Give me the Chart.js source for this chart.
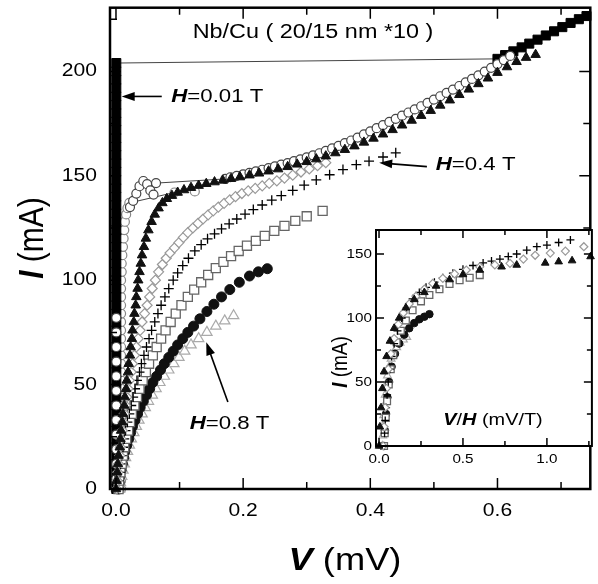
<!DOCTYPE html>
<html>
<head>
<meta charset="utf-8">
<script src="https://cdn.jsdelivr.net/npm/chart.js@4.4.1/dist/chart.umd.min.js"></script>
<style>
body{margin:0;background:#fff;}
#wrap{position:relative;width:598px;height:584px;}
#main{position:absolute;left:0;top:0;}
#inset{position:absolute;left:300px;top:222px;}
</style>
</head>
<body>
<div id="wrap">
<canvas id="main" width="598" height="584"></canvas>
<canvas id="inset" width="298" height="250"></canvas>
</div>
<script>
// I-V curves of Nb/Cu (20/15 nm x10), points are [V (mV), I (mA)]

// H = 0.01 T, filled squares (supercurrent branch then jump to the normal branch)
const sqFilled = [[0.0005,0],[0.0005,4],[0.0005,8],[0.0005,12],[0.0005,16],[0.0005,20],[0.0005,24],[0.0005,28],[0.0005,32],[0.0005,36],[0.0005,40],[0.0005,44],[0.0005,48],[0.0005,52],[0.0005,56],[0.0005,60],[0.0005,64],[0.0005,68],[0.0005,72],[0.0005,76],[0.0005,80],[0.0005,84],[0.0005,88],[0.0005,92],[0.0005,96],[0.0005,100],[0.0005,104],[0.0005,108],[0.0005,112],[0.0005,116],[0.0005,120],[0.0005,124],[0.0005,128],[0.0005,132],[0.0005,136],[0.0005,140],[0.0005,144],[0.0005,148],[0.0005,152],[0.0005,156],[0.0005,160],[0.0005,164],[0.0005,168],[0.0005,172],[0.0005,176],[0.0005,180],[0.0005,184],[0.0005,188],[0.0005,192],[0.0005,196],[0.0005,200],[0.0005,204],
	[0.6,206],[0.612,207.8],[0.625,209.6],[0.638,211.5],[0.65,213.3],[0.663,215.2],[0.676,217.2],[0.689,219.2],[0.702,221.2],[0.715,223.2],[0.728,225],[0.74,226.5]];

// open circles, grey
const circGrey = [[0.008,0],[0.008,4],[0.008,8],[0.008,12],[0.008,16],[0.008,20],[0.008,24],[0.008,28],[0.008,32],[0.008,36],[0.008,40],[0.008,44],[0.008,48],[0.008,52],[0.008,56],[0.008,60],[0.008,64],[0.008,68],[0.008,72],[0.008,76],[0.008,80],[0.008,84],[0.008,88],[0.008,92],[0.008,96],[0.008,100],
	[0.009,104],[0.009,108],[0.010,112],[0.011,116],[0.012,120],[0.013,124],[0.014,128],[0.016,131.5],[0.018,134.5],[0.021,137],[0.092,142],[0.124,142.5]];

// open circles, black
const circOpen = [[0.0005,5],[0.0005,12],[0.0005,19],[0.0005,26],[0.0005,33],[0.0005,40],[0.0005,47],[0.0005,54],[0.0005,61],[0.0005,68],[0.0005,75],[0.0005,82],
	[0.022,135],[0.027,138],[0.032,141.5],[0.037,145],[0.043,147.5],[0.049,146],[0.054,143],[0.059,141],[0.063,146.5],
	[0.172,148.5],[0.18,149.3],[0.19,150],[0.20,150.7],[0.21,151.4],[0.22,152.1],[0.23,152.9],[0.24,153.7],[0.25,154.5],[0.26,155.3],[0.27,156.1],[0.28,157],[0.29,157.9],[0.30,158.8],[0.31,159.8],[0.32,160.8],[0.33,161.9],[0.34,163.1],[0.35,164.3],[0.36,165.6],[0.37,166.9],[0.38,168.3],[0.39,169.8],[0.40,171.3],[0.41,172.8],[0.42,174.3],[0.43,175.8],[0.44,177.3],[0.45,178.8],[0.46,180.3],[0.47,181.8],[0.48,183.3],[0.49,184.9],[0.50,186.5],[0.51,188.1],[0.52,189.7],[0.53,191.3],[0.54,193],[0.55,194.7],[0.56,196.4],[0.57,198.1],[0.58,199.9],[0.59,201.7],[0.60,203.5],[0.61,205.4],[0.62,207.4]];

// filled triangles
const triFilled = [[0.000,0],[0.001,4],[0.002,8],[0.003,12],[0.004,16],[0.006,20],[0.007,24],[0.008,28],[0.010,32],[0.011,36],[0.013,40],[0.014,44],[0.016,48],[0.017,52],[0.019,56],[0.020,60],[0.022,64],[0.023,68],[0.025,72],[0.026,76],[0.028,80],[0.029,84],[0.031,88],[0.032,92],[0.034,96],[0.035,100],[0.037,104],[0.039,108],[0.041,112],[0.044,116],[0.047,120],[0.051,124],[0.056,128],[0.061,131.5],[0.067,134.5],[0.073,137],[0.080,139],[0.088,140.5],[0.097,142],[0.107,143.2],[0.118,144.3],[0.130,145.3],[0.142,146.2],[0.155,147],[0.168,147.8],[0.181,148.6],
	[0.195,149.4],[0.21,150.3],[0.225,151.2],[0.24,152.2],[0.255,153.2],[0.27,154.3],[0.285,155.5],[0.30,156.7],[0.315,158],[0.33,159.4],[0.345,160.9],[0.36,162.5],[0.375,164.2],[0.39,166],[0.405,167.9],[0.42,169.9],[0.435,172],[0.45,174.2],[0.465,176.5],[0.48,178.8],[0.495,181.2],[0.51,183.7],[0.525,186.2],[0.54,188.8],[0.555,191.4],[0.57,194],[0.585,196.7],[0.60,199.4],[0.615,202.1],[0.63,204.6],[0.645,206.6],[0.66,208]];

// open diamonds, grey
const diamOpen = [[0.001,0],[0.002,4],[0.003,8],[0.004,12],[0.006,16],[0.007,20],[0.008,24],[0.010,28],[0.011,32],[0.013,36],[0.015,40],[0.017,44],[0.019,48],[0.021,52],[0.024,56],[0.026,60],[0.029,64],[0.032,68],[0.035,72],[0.038,76],[0.041,80],[0.045,84],[0.049,88],[0.053,92],[0.057,96],[0.062,100],[0.067,104],[0.073,107.5],[0.079,110.5],[0.085,113],[0.092,115.5],[0.099,118],[0.106,120.5],[0.113,122.8],[0.121,125],[0.129,127.2],[0.137,129.3],[0.145,131.3],[0.153,133.2],[0.161,135],[0.170,136.8],[0.179,138.5],[0.188,140],[0.198,141.5],[0.208,142.8],[0.219,144],[0.230,145.2],[0.241,146.4],[0.253,147.6],[0.265,148.9],[0.278,150.3],[0.291,151.8],[0.304,153.3],[0.317,154.8],[0.33,156.3]];

// crosses, H = 0.4 T
const crossBlack = [[0.003,0],[0.004,4],[0.006,8],[0.007,12],[0.009,16],[0.011,20],[0.013,24],[0.015,28],[0.018,32],[0.021,36],[0.024,40],[0.027,44],[0.030,48],[0.033,52],[0.037,56],[0.040,60],[0.044,64],[0.048,68],[0.052,72],[0.056,76],[0.061,80],[0.066,84],[0.071,88],[0.077,92],[0.083,96],[0.090,100],[0.097,103.5],[0.105,107],[0.114,110.5],[0.124,114],[0.134,117],[0.144,119.8],[0.155,122.2],[0.166,124.6],[0.178,127],[0.19,129.3],[0.203,131.6],[0.216,133.8],[0.23,136],[0.245,138.3],[0.26,140.5],[0.278,143],[0.296,145.5],[0.315,148],[0.336,150.5],[0.357,153],[0.378,155.3],[0.398,157],[0.42,159],[0.44,161]];

// open squares, grey
const sqOpen = [[0.004,0],[0.005,4],[0.007,8],[0.009,12],[0.011,16],[0.013,20],[0.016,24],[0.019,28],[0.022,32],[0.025,36],[0.029,40],[0.033,44],[0.037,48],[0.042,52],[0.047,56],[0.052,60],[0.058,64],[0.064,68],[0.071,72],[0.078,76],[0.086,80],[0.094,84],[0.103,88],[0.113,92],[0.123,95.5],[0.134,99],[0.145,102.5],[0.157,105.8],[0.169,108.8],[0.181,111.5],[0.193,114],[0.206,116.5],[0.22,118.8],[0.234,121.2],[0.249,123.6],[0.265,126],[0.282,128.4],[0.30,130.6],[0.325,133.2]];

// filled circles
const circFilled = [[0.004,0],[0.005,3],[0.006,6],[0.008,9],[0.010,12],[0.012,15],[0.014,18],[0.017,21],[0.020,24],[0.023,27],[0.026,30],[0.030,33],[0.034,36],[0.038,39],[0.043,42],[0.048,45],[0.053,48],[0.058,51],[0.064,54],[0.070,57],[0.076,60],[0.083,63],[0.090,66],[0.097,69],[0.105,72],[0.113,75],[0.122,78],[0.132,81.5],[0.143,85],[0.154,88.5],[0.166,92],[0.179,95.5],[0.194,99],[0.21,102],[0.224,104],[0.238,105.5]];

// open triangles, grey, H = 0.8 T
const triOpen = [[0.006,0],[0.007,3],[0.009,6],[0.011,9],[0.013,12],[0.015,15],[0.018,18],[0.021,21],[0.024,24],[0.028,27],[0.032,30],[0.036,33],[0.041,36],[0.046,39],[0.051,42],[0.057,45],[0.063,48],[0.069,51],[0.076,54],[0.083,57],[0.091,60],[0.099,63],[0.108,66],[0.118,69],[0.130,72],[0.143,75],[0.157,78],[0.171,80.5],[0.185,83]];

// inset: I against V/H (mV/T)
const inTriFilled = [[0.0,0],[0.005,15],[0.012,30],[0.02,45],[0.03,58],[0.045,70],[0.065,82],[0.09,92],[0.12,100],[0.16,108],[0.21,114.5],[0.27,120],[0.34,125],[0.42,130],[0.5,134],[0.6,137.5],[0.73,140],[0.82,141.4],[0.99,143],[1.07,144],[1.15,144.8],[1.26,148]];
const inCross = [[0.03,0],[0.033,10],[0.037,20],[0.042,30],[0.048,40],[0.055,50],[0.064,60],[0.075,70],[0.09,80],[0.11,90],[0.135,100],[0.165,108],[0.2,115],[0.24,120],[0.28,124],[0.33,128],[0.38,131.5],[0.44,135],[0.5,138],[0.56,141],[0.62,143],[0.67,144.5],[0.72,146],[0.77,148],[0.82,150],[0.88,153],[0.94,155.7],[1.0,157],[1.07,159],[1.14,161]];
const inDiam = [[0.025,0],[0.03,15],[0.036,30],[0.044,45],[0.055,60],[0.07,72],[0.09,84],[0.115,95],[0.145,104],[0.18,111],[0.22,117],[0.27,122.5],[0.32,127],[0.38,131],[0.45,134.5],[0.52,137.5],[0.6,140],[0.69,141.5],[0.78,142.7],[0.86,146],[0.93,149],[1.02,150.7],[1.11,152.3],[1.22,155.7]];
const inSqOpen = [[0.03,0],[0.034,10],[0.04,22],[0.048,35],[0.058,48],[0.07,60],[0.085,71],[0.105,81],[0.13,90],[0.16,98],[0.2,106],[0.25,113],[0.3,118],[0.36,122.5],[0.42,126.5],[0.48,129.5],[0.54,131.5],[0.6,133.5]];
const inCircFilled = [[0.03,0],[0.035,12],[0.042,25],[0.05,38],[0.06,50],[0.075,62],[0.095,72],[0.12,80],[0.15,87],[0.18,92],[0.21,96],[0.24,99],[0.27,101],[0.3,103]];
const inTriOpen = [[0.02,0],[0.022,8],[0.025,16],[0.028,24],[0.032,32],[0.037,40],[0.043,48],[0.05,55],[0.06,62],[0.072,68],[0.087,73],[0.105,77],[0.125,80.5],[0.145,83],[0.165,85]];

// axis ticks and labels
const mainXTicks = [0, 0.1, 0.2, 0.3, 0.4, 0.5, 0.6, 0.7];
const mainXLabels = [0, 0.2, 0.4, 0.6];
const mainYTicks = [0, 25, 50, 75, 100, 125, 150, 175, 200, 225];
const mainYLabels = [0, 50, 100, 150, 200];
const inXTicks = [0, 0.25, 0.5, 0.75, 1.0, 1.25];
const inXLabels = [0, 0.5, 1.0];
const inYTicks = [0, 25, 50, 75, 100, 125, 150];
const inYLabels = [0, 50, 100, 150];

// field labels with arrows: [text, arrow tail, arrow tip, text anchor] in data units
const fieldNotes = [
	['=0.01 T', [0.072, 188], [0.009, 188], [0.087, 188]],
	['=0.4 T', [0.489, 154.4], [0.414, 156.2], [0.503, 155.5]],
	['=0.8 T', [0.176, 41.7], [0.142, 70.3], [0.116, 31.4]]
];

const FAM = "'Liberation Sans', Arial, sans-serif";
const SX = 1.17;   // lettering is drawn a little wide

function drawRuns(ctx, runs, x, y, align, rot){
	ctx.save();
	ctx.translate(x, y);
	ctx.scale(SX, 1);
	if(rot) ctx.rotate(rot);
	ctx.textBaseline = 'middle';
	ctx.textAlign = 'left';
	ctx.fillStyle = '#000';
	let w = 0;
	runs.forEach(r => { ctx.font = r[1]; w += ctx.measureText(r[0]).width; });
	let pos = align == 'center' ? -w / 2 : (align == 'right' ? -w : 0);
	runs.forEach(r => { ctx.font = r[1]; ctx.fillText(r[0], pos, 0); pos += ctx.measureText(r[0]).width; });
	ctx.restore();
}

function arrow(ctx, x0, y0, x1, y1){
	let a = Math.atan2(y1 - y0, x1 - x0);
	let c = Math.cos(a), s = Math.sin(a);
	ctx.save();
	ctx.strokeStyle = '#000';
	ctx.fillStyle = '#000';
	ctx.lineWidth = 1.6;
	ctx.beginPath();
	ctx.moveTo(x0, y0);
	ctx.lineTo(x1 - 10 * c, y1 - 10 * s);
	ctx.stroke();
	ctx.beginPath();
	ctx.moveTo(x1, y1);
	ctx.lineTo(x1 - 13 * c + 4.5 * s, y1 - 13 * s - 4.5 * c);
	ctx.lineTo(x1 - 13 * c - 4.5 * s, y1 - 13 * s + 4.5 * c);
	ctx.closePath();
	ctx.fill();
	ctx.restore();
}

// frame with inward ticks on all four sides
function drawFrame(chart, xt, xm, yt, ym, major, minor, frameW){
	const ctx = chart.ctx, a = chart.chartArea;
	const sx = chart.scales.x, sy = chart.scales.y;
	ctx.save();
	ctx.strokeStyle = '#000';
	ctx.lineWidth = 1.5;
	ctx.beginPath();
	xt.forEach(v => {
		let p = sx.getPixelForValue(v), l = xm.includes(v) ? major : minor;
		ctx.moveTo(p, a.bottom); ctx.lineTo(p, a.bottom - l);
		ctx.moveTo(p, a.top); ctx.lineTo(p, a.top + l);
	});
	yt.forEach(v => {
		let p = sy.getPixelForValue(v), l = ym.includes(v) ? major : minor;
		ctx.moveTo(a.left, p); ctx.lineTo(a.left + l, p);
		ctx.moveTo(a.right, p); ctx.lineTo(a.right - l, p);
	});
	ctx.stroke();
	ctx.lineWidth = frameW;
	ctx.strokeRect(a.left, a.top, a.right - a.left, a.bottom - a.top);
	ctx.restore();
}

function makeSet(pts, st, k){
	let d = {
		data: pts.map(p => ({x: p[0], y: p[1]})),
		showLine: !!st.jump,
		borderWidth: 1,
		borderColor: 'rgba(0,0,0,0)',
		pointStyle: st.style,
		pointRadius: st.r * k,
		pointBackgroundColor: st.fill,
		pointBorderColor: st.edge,
		pointBorderWidth: st.bw,
		order: st.order,
		clip: false
	};
	// only the voltage jumps are joined by a thin line
	if(st.jump) d.segment = {borderColor: c => (c.p1.parsed.x - c.p0.parsed.x > 0.05 ? '#444' : 'rgba(0,0,0,0)')};
	return d;
}

const stSqFilled = {style: 'rect', r: 6.4, fill: '#000', edge: '#000', bw: 1, order: 10, jump: true};
const stCircGrey = {style: 'circle', r: 4.5, fill: '#fff', edge: '#888', bw: 1.2, order: 11, jump: true};
const stCircOpen = {style: 'circle', r: 4.5, fill: '#fff', edge: '#444', bw: 1.2, order: 8, jump: true};
const stTriOpen = {style: 'triangle', r: 6, fill: '#fff', edge: '#aaa', bw: 1.2, order: 7};
const stCircFilled = {style: 'circle', r: 5, fill: '#111', edge: '#111', bw: 1, order: 6};
const stSqOpen = {style: 'rect', r: 6.4, fill: '#fff', edge: '#666', bw: 1.3, order: 5};
const stCross = {style: 'cross', r: 5, fill: '#000', edge: '#000', bw: 1.3, order: 4};
const stDiam = {style: 'rectRot', r: 5, fill: '#fff', edge: '#999', bw: 1.2, order: 3};
const stTriFilled = {style: 'triangle', r: 5.5, fill: '#111', edge: '#111', bw: 1, order: 2};

const mainDeco = {
	id: 'mainDeco',
	beforeDraw(chart){
		chart.ctx.save();
		chart.ctx.fillStyle = '#fff';
		chart.ctx.fillRect(0, 0, chart.width, chart.height);
		chart.ctx.restore();
	},
	afterDraw(chart){
		const ctx = chart.ctx, sx = chart.scales.x, sy = chart.scales.y;
		drawFrame(chart, mainXTicks, mainXLabels, mainYTicks, mainYLabels, 11, 7, 2.5);
		const f18 = '18px ' + FAM;
		mainXLabels.forEach(v => drawRuns(ctx, [[v.toFixed(1), f18]], sx.getPixelForValue(v), 511, 'center'));
		mainYLabels.forEach(v => drawRuns(ctx, [[String(v), f18]], 97, sy.getPixelForValue(v), 'right'));
		drawRuns(ctx, [['V', 'bold italic 31px ' + FAM], [' (mV)', '31px ' + FAM]], 345, 561, 'center');
		drawRuns(ctx, [['I', 'bold italic 30px ' + FAM], [' (mA)', '30px ' + FAM]], 33, 238, 'center', -Math.PI / 2);
		drawRuns(ctx, [['Nb/Cu ( 20/15 nm *10 )', '20px ' + FAM]], 313, 32, 'center');
		fieldNotes.forEach(n => {
			arrow(ctx, sx.getPixelForValue(n[1][0]), sy.getPixelForValue(n[1][1]), sx.getPixelForValue(n[2][0]), sy.getPixelForValue(n[2][1]));
			drawRuns(ctx, [['H', 'bold italic 19px ' + FAM], [n[0], '19px ' + FAM]], sx.getPixelForValue(n[3][0]), sy.getPixelForValue(n[3][1]), 'left');
		});
	}
};

const insetDeco = {
	id: 'insetDeco',
	beforeDraw(chart){
		const a = chart.chartArea;
		chart.ctx.save();
		chart.ctx.fillStyle = '#fff';
		chart.ctx.fillRect(a.left, a.top, a.right - a.left, a.bottom - a.top);
		chart.ctx.restore();
	},
	afterDraw(chart){
		const ctx = chart.ctx, sx = chart.scales.x, sy = chart.scales.y;
		drawFrame(chart, inXTicks, inXLabels, inYTicks, inYLabels, 8, 5, 2);
		const f13 = '13px ' + FAM;
		inXLabels.forEach(v => drawRuns(ctx, [[v.toFixed(1), f13]], sx.getPixelForValue(v), 237, 'center'));
		inYLabels.forEach(v => drawRuns(ctx, [[String(v), f13]], 72, sy.getPixelForValue(v), 'right'));
		drawRuns(ctx, [['V', 'bold italic 17px ' + FAM], ['/', '17px ' + FAM], ['H', 'bold italic 17px ' + FAM], [' (mV/T)', '17px ' + FAM]], 193, 198, 'center');
		drawRuns(ctx, [['I', 'bold italic 19px ' + FAM], [' (mA)', '19px ' + FAM]], 41, 140, 'center', -Math.PI / 2);
	}
};

new Chart(document.getElementById('main'), {
	type: 'scatter',
	data: {
		datasets: [
			makeSet(sqFilled, stSqFilled, 1),
			makeSet(circGrey, stCircGrey, 1),
			makeSet(circOpen, stCircOpen, 1),
			makeSet(triOpen, stTriOpen, 1),
			makeSet(circFilled, stCircFilled, 1),
			makeSet(sqOpen, stSqOpen, 1),
			makeSet(crossBlack, stCross, 1),
			makeSet(diamOpen, stDiam, 1),
			makeSet(triFilled, stTriFilled, 1)
		]
	},
	options: {
		responsive: false,
		animation: false,
		devicePixelRatio: 1,
		layout: {padding: {left: 110, right: 6, top: 6, bottom: 95}},
		plugins: {legend: {display: false}, tooltip: {enabled: false}},
		scales: {
			x: {type: 'linear', display: false, min: -0.0094, max: 0.746},
			y: {type: 'linear', display: false, min: 0, max: 230.5}
		}
	},
	plugins: [mainDeco]
});

new Chart(document.getElementById('inset'), {
	type: 'scatter',
	data: {
		datasets: [
			makeSet(inTriOpen, stTriOpen, 0.75),
			makeSet(inCircFilled, stCircFilled, 0.75),
			makeSet(inSqOpen, stSqOpen, 0.75),
			makeSet(inCross, stCross, 0.8),
			makeSet(inDiam, stDiam, 0.8),
			makeSet(inTriFilled, stTriFilled, 0.8)
		]
	},
	options: {
		responsive: false,
		animation: false,
		devicePixelRatio: 1,
		layout: {padding: {left: 76, right: 6, top: 8, bottom: 26}},
		plugins: {legend: {display: false}, tooltip: {enabled: false}},
		scales: {
			x: {type: 'linear', display: false, min: -0.018, max: 1.268},
			y: {type: 'linear', display: false, min: 0, max: 168.75}
		}
	},
	plugins: [insetDeco]
});
</script>
</body>
</html>
